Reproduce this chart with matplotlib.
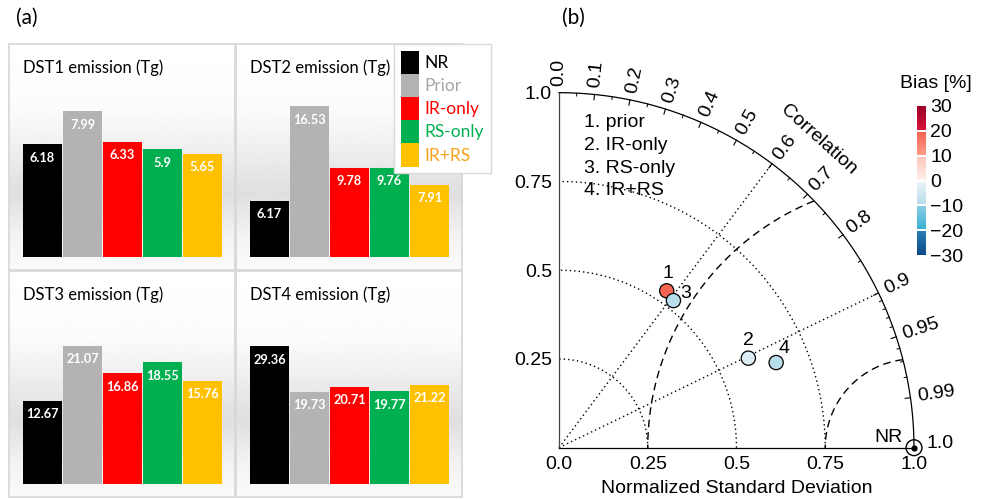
import numpy as np
import matplotlib
matplotlib.use("Agg")
import matplotlib.pyplot as plt
from matplotlib.patches import Patch
from matplotlib.colors import LinearSegmentedColormap, Normalize
from matplotlib.cm import ScalarMappable

W, H = 982, 500

# ---- (a) emission bars ----
runs = ["NR", "Prior", "IR-only", "RS-only", "IR+RS"]
run_colors = ["#000000", "#b3b3b3", "#ff0000", "#00b050", "#ffc000"]
legend_text_colors = ["#000000", "#a6a6a6", "#ff0000", "#00b050", "#f7a21b"]
titles = ["DST1 emission (Tg)", "DST2 emission (Tg)",
          "DST3 emission (Tg)", "DST4 emission (Tg)"]
dst1 = [6.18, 7.99, 6.33, 5.9, 5.65]
dst2 = [6.17, 16.53, 9.78, 9.76, 7.91]
dst3 = [12.67, 21.07, 16.86, 18.55, 15.76]
dst4 = [29.36, 19.73, 20.71, 19.77, 21.22]
ymax = [9, 18, 25, 35]

# ---- (b) taylor diagram ----
exp_names = ["prior", "IR-only", "RS-only", "IR+RS"]
norm_std = [0.536, 0.590, 0.525, 0.657]
corr = [0.566, 0.904, 0.614, 0.931]
bias = [19, -3, -9.5, -9.5]
corr_labels = [0.0, 0.1, 0.2, 0.3, 0.4, 0.5, 0.6, 0.7, 0.8, 0.9, 0.95, 0.99, 1.0]

FA = "Lato"
FB = "Liberation Sans"
FS = 14


def box(x0, y0, x1, y1):
    # pixel box -> figure fraction rect
    return [x0 / W, 1 - y1 / H, (x1 - x0) / W, (y1 - y0) / H]


fig = plt.figure(figsize=(W / 100, H / 100), dpi=100)

fig.text(16 / W, 1 - 18 / H, "(a)", fontsize=15, family=FA, va="center", ha="left")
fig.text(562 / W, 1 - 18 / H, "(b)", fontsize=15, family=FA, va="center", ha="left")

frames = [(9, 44, 235, 270), (236, 44, 462, 270), (9, 271, 235, 497), (236, 271, 462, 497)]
plots = [(23, 93, 222, 257), (250, 93, 449, 257), (23, 320, 222, 484), (250, 320, 449, 484)]
data = [dst1, dst2, dst3, dst4]

f = np.linspace(0, 1, 300)
shade = np.interp(f, [0, 0.3, 0.66, 0.86, 1.0], [1.0, 0.985, 0.875, 0.955, 0.98])
grad = shade[:, None]

for k in range(4):
    fr = fig.add_axes(box(*frames[k]), zorder=0)
    fr.imshow(grad, cmap="gray", vmin=0, vmax=1, aspect="auto",
              extent=[0, 1, 0, 1], interpolation="bilinear")
    fr.set_xticks([])
    fr.set_yticks([])
    for s in fr.spines.values():
        s.set_color("#d9d9d9")
        s.set_linewidth(1.3)
    y0 = frames[k][1]
    fig.text(plots[k][0] / W, 1 - (y0 + 24) / H, titles[k], fontsize=12,
             family=FA, va="center", ha="left")

    ax = fig.add_axes(box(*plots[k]), zorder=1)
    ax.patch.set_alpha(0)
    vals = data[k]
    ax.bar(range(len(vals)), vals, width=0.975, color=run_colors)
    ax.set_xlim(-0.4875, len(vals) - 0.5125)
    ax.set_ylim(0, ymax[k])
    ax.axis("off")
    for i, v in enumerate(vals):
        ax.annotate(str(v), (i, v), xytext=(0, -9.5), textcoords="offset points",
                    ha="center", va="center", color="white", fontsize=9.2,
                    fontweight="bold", family=FA)

handles = [Patch(facecolor=c, edgecolor="none") for c in run_colors]
leg = fig.legend(handles, runs, loc="upper left",
                 bbox_to_anchor=(394 / W, 1 - 44 / H), borderaxespad=0,
                 prop={"family": FA, "size": 12.5}, handlelength=1.04,
                 handleheight=1.68, handletextpad=0.35, labelspacing=0,
                 borderpad=0.38, fancybox=False, framealpha=1,
                 edgecolor="#d9d9d9", labelcolor=legend_text_colors)
leg.set_zorder(5)

# ---- Taylor diagram ----
ox, oy, R = 559, 447.7, 355
tx = fig.add_axes([ox / W, 1 - oy / H, R / W, R / H], zorder=2)
tx.patch.set_alpha(0)
tx.set_xlim(0, 1)
tx.set_ylim(0, 1)
for s in ["top", "right"]:
    tx.spines[s].set_visible(False)
for s in ["left", "bottom"]:
    tx.spines[s].set_linewidth(0.9)
tx.spines["left"].set_color("#444444")
tx.set_xticks([0, 0.25, 0.5, 0.75, 1.0], ["0.0", "0.25", "0.5", "0.75", "1.0"])
tx.set_yticks([0.25, 0.5, 0.75, 1.0], ["0.25", "0.5", "0.75", "1.0"])
tx.tick_params(length=0, labelsize=FS)
tx.tick_params(axis="x", pad=6)
tx.tick_params(axis="y", pad=5)
for lab in tx.get_xticklabels() + tx.get_yticklabels():
    lab.set_family(FB)
tx.set_xlabel("Normalized Standard Deviation", fontsize=FS, family=FB, labelpad=5)

th = np.linspace(0, np.pi / 2, 400)
tx.plot(np.cos(th), np.sin(th), color="black", lw=0.9, clip_on=False)
for r in [0.25, 0.5, 0.75]:
    tx.plot(r * np.cos(th), r * np.sin(th), color="black", lw=1.0,
            ls=(0, (1, 2.2)), clip_on=False)
for c in [0.6, 0.9]:
    a = np.arccos(c)
    tx.plot([0, np.cos(a)], [0, np.sin(a)], color="black", lw=1.0,
            ls=(0, (1, 2.2)), clip_on=False)
phi = np.linspace(np.pi / 2, np.pi, 600)
for rr in [0.25, 0.75]:
    xs = 1 + rr * np.cos(phi)
    ys = rr * np.sin(phi)
    keep = xs ** 2 + ys ** 2 <= 1.0
    tx.plot(xs[keep], ys[keep], color="black", lw=1.0, ls=(0, (5.5, 3.5)),
            clip_on=False)

# correlation ticks on the outer arc
minor = list(np.arange(0.05, 0.9, 0.1)) + [0.91, 0.92, 0.93, 0.94, 0.96, 0.97, 0.98]
for c in corr_labels[1:-1]:
    a = np.arccos(c)
    tx.plot([np.cos(a), 0.985 * np.cos(a)], [np.sin(a), 0.985 * np.sin(a)],
            color="black", lw=0.8, clip_on=False)
for c in minor:
    a = np.arccos(c)
    tx.plot([np.cos(a), 0.992 * np.cos(a)], [np.sin(a), 0.992 * np.sin(a)],
            color="black", lw=0.7, clip_on=False)
for c in corr_labels[:-1]:
    a = np.arccos(c)
    lab = "%.2f" % c if c in (0.95, 0.99) else "%.1f" % c
    tx.text(1.02 * np.cos(a), 1.02 * np.sin(a), lab, rotation=np.degrees(a),
            rotation_mode="anchor", ha="left", va="center", fontsize=FS, family=FB)
tx.text(1.035, 0.012, "1.0", ha="left", va="center", fontsize=FS, family=FB)
tx.text(0.732, 0.867, "Correlation", rotation=-42, ha="center", va="center",
        fontsize=FS, family=FB)

# bias colormap
cmap = LinearSegmentedColormap.from_list("bias", [
    (0.0, "#0b4a86"), (0.1666, "#2a80b8"), (0.1667, "#35aed3"), (0.3333, "#8ccfe3"),
    (0.3334, "#b5dcea"), (0.5, "#eef4f8"), (0.5001, "#fdf0ec"), (0.6666, "#fcc5b6"),
    (0.6667, "#fc9e8a"), (0.8333, "#f4604f"), (0.8334, "#d7153a"), (1.0, "#9c002b")])
norm = Normalize(-30, 30)

xs = np.array(norm_std) * np.array(corr)
ys = np.array(norm_std) * np.sqrt(1 - np.array(corr) ** 2)
tx.scatter(xs, ys, s=105, c=bias, cmap=cmap, norm=norm, edgecolors="black",
           linewidths=0.9, zorder=5, clip_on=False)
offs = [(1, 17), (0, 18), (12, 7), (8, 14)]  # pixels
for i in range(len(xs)):
    tx.annotate(str(i + 1), (xs[i], ys[i]),
                xytext=(offs[i][0] * 0.72, offs[i][1] * 0.72),
                textcoords="offset points", ha="center", va="center",
                fontsize=FS, family=FB)
for i, n in enumerate(exp_names):
    tx.text(0.07, 0.915 - i * 0.0637, "%d. %s" % (i + 1, n),
            ha="left", va="center", fontsize=FS, family=FB)

tx.scatter([1.0], [0.0], s=130, facecolors="none", edgecolors="black",
           linewidths=1.0, zorder=6, clip_on=False)
tx.scatter([1.0], [0.0], s=12, color="black", zorder=6, clip_on=False)
tx.text(0.968, 0.03, "NR", ha="right", va="center", fontsize=FS, family=FB)

cax = fig.add_axes(box(917, 106, 926, 255))
cb = fig.colorbar(ScalarMappable(norm=norm, cmap=cmap), cax=cax,
                  ticks=[30, 20, 10, 0, -10, -20, -30])
cb.outline.set_visible(False)
cax.tick_params(length=0, labelsize=FS, pad=3)
for lab in cax.get_yticklabels():
    lab.set_family(FB)
for v in [20, 10, 0, -10, -20]:
    cax.axhline(v, color="white", lw=1.4)
fig.text(936 / W, 1 - 83 / H, "Bias [%]", ha="center", va="center",
         fontsize=FS, family=FB)

fig.savefig("out.png", dpi=100)
